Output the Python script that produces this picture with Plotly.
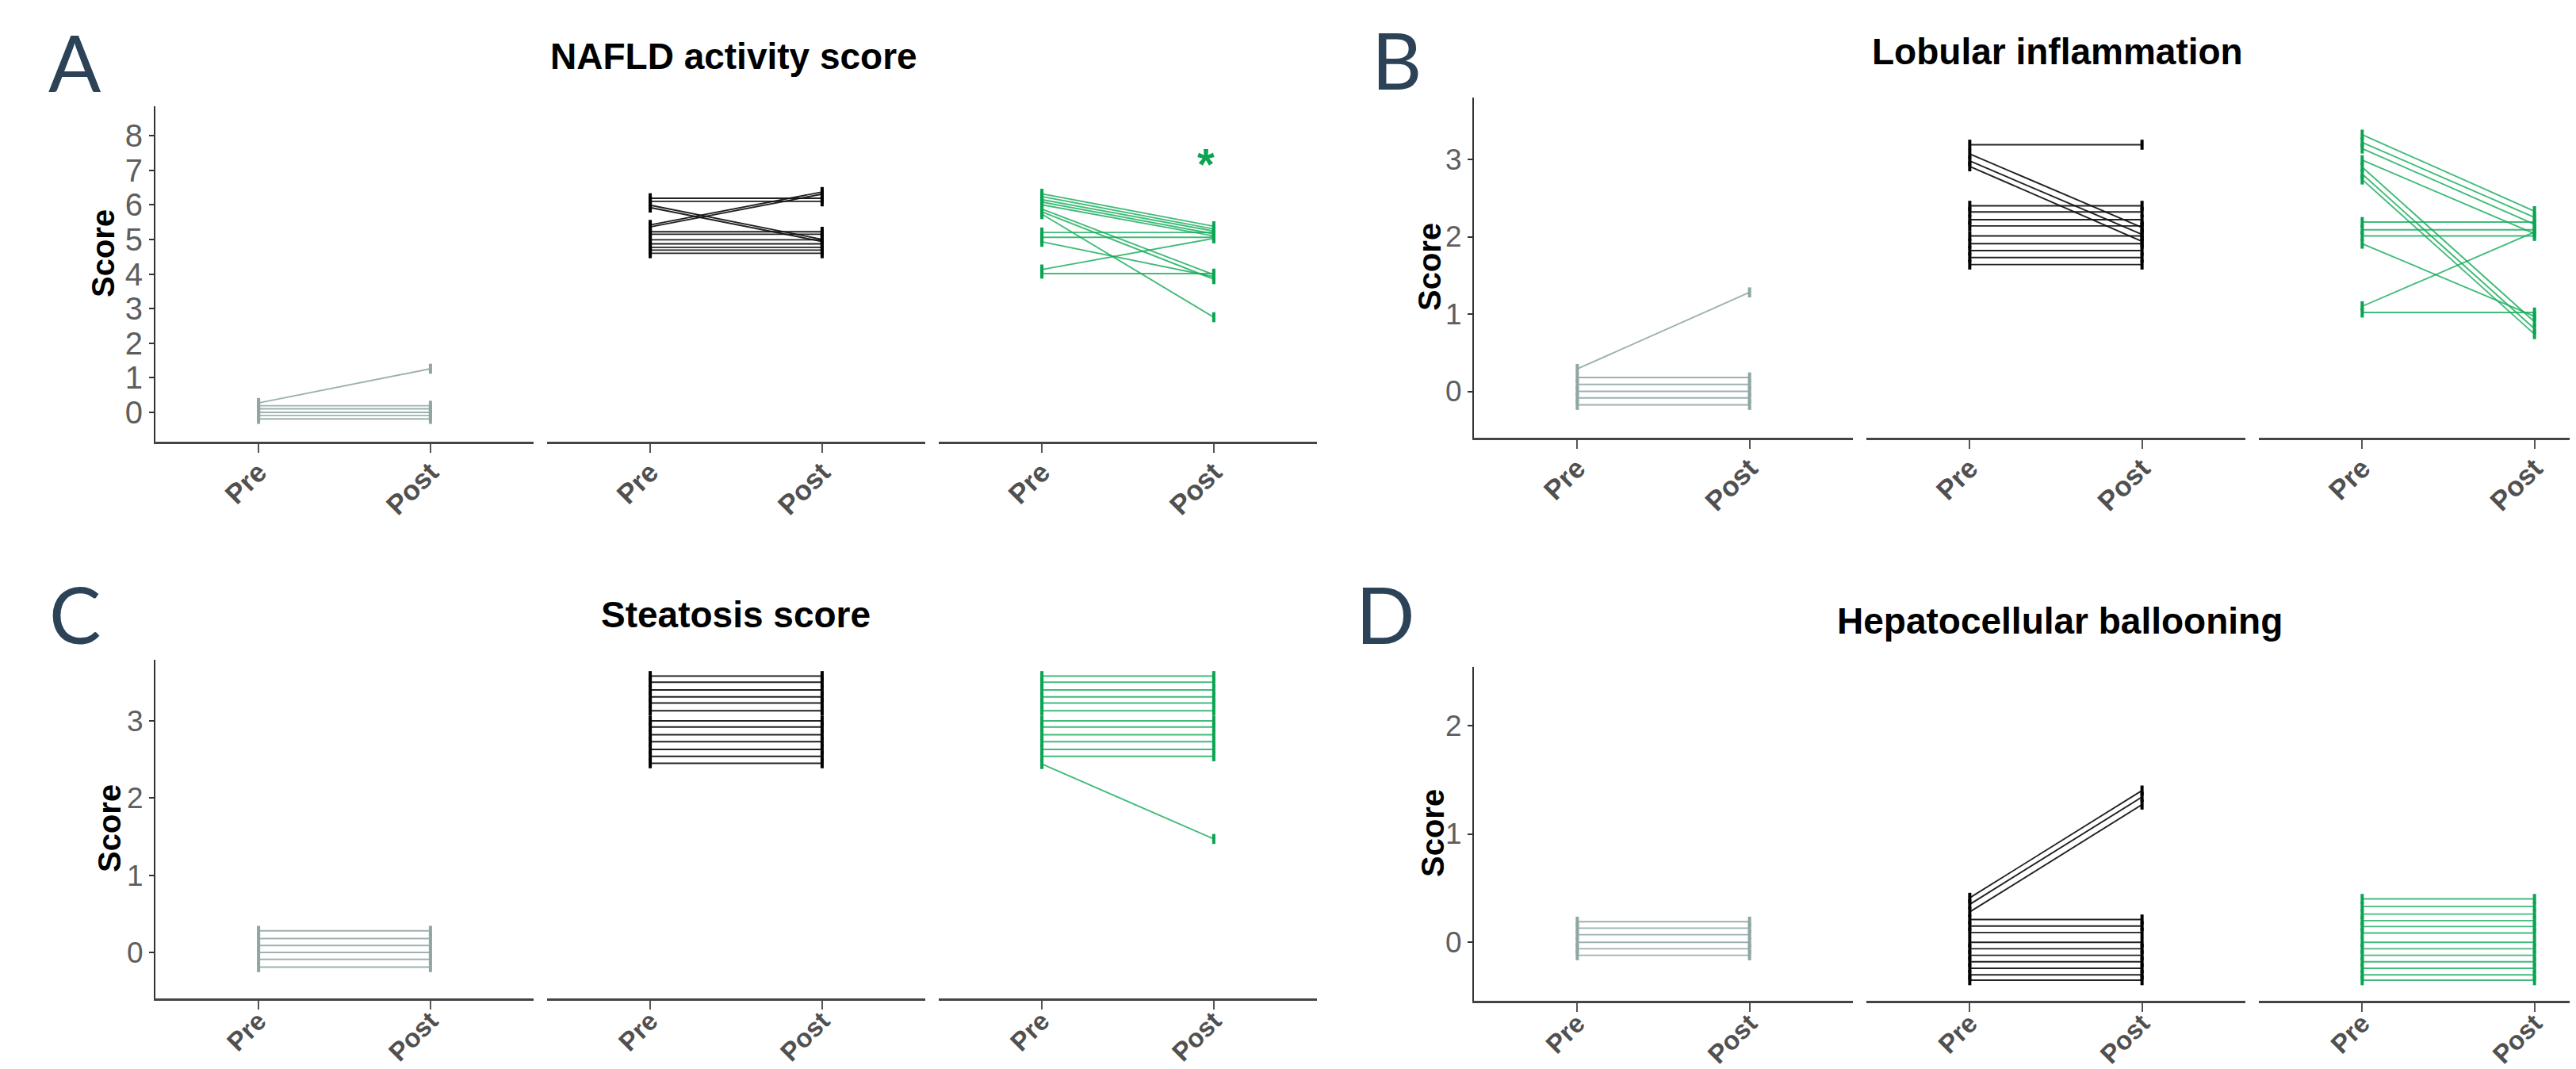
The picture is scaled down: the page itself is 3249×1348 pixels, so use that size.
import plotly.graph_objects as go

W, H = 3249, 1348

categories = ["Pre", "Post"]

# ---------------- Panel A: NAFLD activity score ----------------
nas_grey_pre = [0.27, 0.19, 0.10, 0.00, -0.09, -0.19]
nas_grey_post = [1.26, 0.19, 0.10, 0.00, -0.09, -0.19]
nas_black_pre = [6.19, 6.10, 5.99, 5.92, 5.42, 5.36, 5.22, 5.15, 4.99, 4.87, 4.77, 4.69, 4.60]
nas_black_post = [6.19, 6.10, 5.00, 4.94, 6.37, 6.31, 5.22, 5.15, 4.99, 4.87, 4.77, 4.69, 4.60]
nas_green_pre = [6.32, 6.24, 6.15, 6.08, 6.00, 5.88, 5.80, 5.73, 5.20, 5.06, 4.93, 4.13, 4.01]
nas_green_post = [5.38, 5.30, 5.24, 5.16, 5.10, 3.98, 3.85, 2.75, 5.20, 5.06, 3.92, 5.03, 4.01]
nas_sig_y = 7.37

# ---------------- Panel B: Lobular inflammation ----------------
lob_grey_pre = [0.29, 0.18, 0.09, 0.00, -0.085, -0.175]
lob_grey_post = [1.28, 0.18, 0.09, 0.00, -0.085, -0.175]
lob_black_pre = [3.19, 3.07, 2.98, 2.91, 2.40, 2.32, 2.22, 2.14, 2.01, 1.91, 1.82, 1.73, 1.64]
lob_black_post = [3.19, 2.12, 2.03, 1.94, 2.40, 2.32, 2.22, 2.14, 2.01, 1.91, 1.82, 1.73, 1.64]
lob_green_pre = [3.32, 3.22, 3.14, 2.99, 2.90, 2.81, 2.74, 2.19, 2.09, 2.01, 1.91, 1.10, 1.02]
lob_green_post = [2.33, 2.25, 2.16, 2.04, 0.90, 0.81, 0.74, 2.19, 2.09, 2.01, 0.97, 2.06, 1.02]

# ---------------- Panel C: Steatosis score ----------------
ste_grey_pre = [0.28, 0.18, 0.09, 0.00, -0.09, -0.19]
ste_grey_post = [0.28, 0.18, 0.09, 0.00, -0.09, -0.19]
ste_black_pre = [3.58, 3.50, 3.40, 3.31, 3.23, 3.13, 3.00, 2.92, 2.82, 2.73, 2.63, 2.54, 2.45]
ste_black_post = [3.58, 3.50, 3.40, 3.31, 3.23, 3.13, 3.00, 2.92, 2.82, 2.73, 2.63, 2.54, 2.45]
ste_green_pre = [3.58, 3.50, 3.40, 3.31, 3.23, 3.13, 3.00, 2.92, 2.82, 2.73, 2.63, 2.54, 2.44]
ste_green_post = [3.58, 3.50, 3.40, 3.31, 3.23, 3.13, 3.00, 2.92, 2.82, 2.73, 2.63, 2.54, 1.47]

# ---------------- Panel D: Hepatocellular ballooning ----------------
bal_grey_pre = [0.19, 0.13, 0.07, 0.00, -0.06, -0.12]
bal_grey_post = [0.19, 0.13, 0.07, 0.00, -0.06, -0.12]
bal_black_pre = [0.41, 0.35, 0.28, 0.21, 0.15, 0.09, 0.00, -0.06, -0.12, -0.18, -0.24, -0.30, -0.35]
bal_black_post = [1.40, 1.34, 1.27, 0.21, 0.15, 0.09, 0.00, -0.06, -0.12, -0.18, -0.24, -0.30, -0.35]
bal_green_pre = [0.40, 0.33, 0.26, 0.20, 0.145, 0.085, 0.00, -0.06, -0.12, -0.18, -0.24, -0.30, -0.35]
bal_green_post = [0.40, 0.33, 0.26, 0.20, 0.145, 0.085, 0.00, -0.06, -0.12, -0.18, -0.24, -0.30, -0.35]

# ---------------- styles ----------------
STYLES = {
    "grey": dict(line="rgba(140,163,161,0.85)", marker="#8fa6a4"),
    "black": dict(line="rgba(15,15,15,0.92)", marker="#000000"),
    "green": dict(line="rgba(18,170,88,0.80)", marker="#0aa552"),
}
GREEN = "#0aa552"
FONT = "Liberation Sans, Arial, sans-serif"
NUMFONT = "Liberation Sans Narrow, Arial Narrow, Liberation Sans, Arial, sans-serif"

panels = [
    dict(title="NAFLD activity score", letter="A",
         groups=[(nas_grey_pre, nas_grey_post, "grey"),
                 (nas_black_pre, nas_black_post, "black"),
                 (nas_green_pre, nas_green_post, "green")],
         ypx=(126, 549), yrange=[-0.85, 8.85], yticks=list(range(0, 9)), tickfs=40,
         lefts=[188, 682, 1176], width=477, xfs=35, xstand=-10,
         title_pos=(917, 63), letter_pos=(86, 70), score_pos=(122, 312)),
    dict(title="Lobular inflammation", letter="B",
         groups=[(lob_grey_pre, lob_grey_post, "grey"),
                 (lob_black_pre, lob_black_post, "black"),
                 (lob_green_pre, lob_green_post, "green")],
         ypx=(115, 544), yrange=[-0.60, 3.80], yticks=[0, 1, 2, 3], tickfs=37,
         lefts=[1851, 2346, 2841], width=478, xfs=35, xstand=-10,
         title_pos=(2587, 57), letter_pos=(1754, 67), score_pos=(1795, 329)),
    dict(title="Steatosis score", letter="C",
         groups=[(ste_grey_pre, ste_grey_post, "grey"),
                 (ste_black_pre, ste_black_post, "black"),
                 (ste_green_pre, ste_green_post, "green")],
         ypx=(824, 1251), yrange=[-0.595, 3.79], yticks=[0, 1, 2, 3], tickfs=37,
         lefts=[188, 682, 1176], width=477, xfs=33, xstand=-18,
         title_pos=(920, 767), letter_pos=(86, 766), score_pos=(130, 1037)),
    dict(title="Hepatocellular ballooning", letter="D",
         groups=[(bal_grey_pre, bal_grey_post, "grey"),
                 (bal_black_pre, bal_black_post, "black"),
                 (bal_green_pre, bal_green_post, "green")],
         ypx=(833, 1254), yrange=[-0.54, 2.54], yticks=[0, 1, 2], tickfs=37,
         lefts=[1851, 2346, 2841], width=478, xfs=33, xstand=-18,
         title_pos=(2590, 775), letter_pos=(1739, 766), score_pos=(1799, 1043)),
]

fig = go.Figure()
layout = {}
annotations = []
k = 0
for p in panels:
    top, bot = p["ypx"]
    ydom = [1 - bot / H, 1 - top / H]
    for f, (pre, post, sty) in enumerate(p["groups"]):
        k += 1
        sfx = "" if k == 1 else str(k)
        left = p["lefts"][f]
        right = min(left + p["width"], W)
        xr = [-0.6, -0.6 + 2.2 * (right - left) / p["width"]]
        xs, ys = [], []
        for a, b in zip(pre, post):
            xs += [categories[0], categories[1], None]
            ys += [a, b, None]
        st = STYLES[sty]
        fig.add_trace(go.Scatter(
            x=xs, y=ys, mode="lines+markers", xaxis="x" + sfx, yaxis="y" + sfx,
            line=dict(color=st["line"], width=1.9),
            marker=dict(symbol="line-ns-open", size=9, color=st["marker"],
                        line=dict(color=st["marker"], width=4)),
            connectgaps=False, hoverinfo="skip", showlegend=False))
        layout["xaxis" + sfx] = dict(
            domain=[left / W, right / W], anchor="y" + sfx, type="category",
            categoryorder="array", categoryarray=categories, range=xr,
            showline=True, linecolor="#444444", linewidth=3, mirror=False,
            ticks="outside", ticklen=11, tickwidth=2, tickcolor="#555555",
            tickangle=-45, ticklabelstandoff=p["xstand"], showgrid=False, zeroline=False,
            fixedrange=True,
            tickfont=dict(family=FONT, size=p["xfs"], color="#505050", weight="bold"))
        ydict = dict(domain=ydom, anchor="x" + sfx, range=p["yrange"],
                     showgrid=False, zeroline=False, fixedrange=True)
        if f == 0:
            ydict.update(showline=True, linecolor="#333333", linewidth=2,
                         ticks="outside", ticklen=6, tickwidth=1.5, tickcolor="#333333",
                         tickmode="array", tickvals=p["yticks"],
                         ticktext=[str(t) for t in p["yticks"]],
                         tickfont=dict(family=NUMFONT, size=p["tickfs"], color="#5e5e5e"))
        else:
            ydict.update(showline=False, showticklabels=False, ticks="")
        layout["yaxis" + sfx] = ydict

    tx, ty = p["title_pos"]
    annotations.append(dict(text="<b>" + p["title"] + "</b>", x=tx / W, y=1 - ty / H,
                            xref="paper", yref="paper", xanchor="center", yanchor="middle",
                            showarrow=False, font=dict(family=FONT, size=46, color="#000000")))
    lx, ly = p["letter_pos"]
    annotations.append(dict(text=p["letter"], x=lx / W, y=1 - ly / H,
                            xref="paper", yref="paper", xanchor="center", yanchor="middle",
                            showarrow=False, font=dict(family="Lato, Open Sans, sans-serif",
                                                       size=98, color="#2b4257")))
    sx, sy = p["score_pos"]
    annotations.append(dict(text="<b>Score</b>", x=sx / W, y=1 - sy / H,
                            xref="paper", yref="paper", xanchor="center", yanchor="middle",
                            textangle=-90, showarrow=False,
                            font=dict(family=FONT, size=40, color="#000000")))

# significance star on NAS, third group, Post
annotations.append(dict(text="<b>*</b>", x=categories[1], y=nas_sig_y, xref="x3", yref="y3",
                        xanchor="center", yanchor="middle", xshift=-10, yshift=-8,
                        showarrow=False, font=dict(family=FONT, size=56, color=GREEN)))

fig.update_layout(**layout)
fig.update_layout(width=W, height=H, margin=dict(l=0, r=0, t=0, b=0),
                  paper_bgcolor="white", plot_bgcolor="white",
                  annotations=annotations, showlegend=False)

fig.write_html("out.html")
